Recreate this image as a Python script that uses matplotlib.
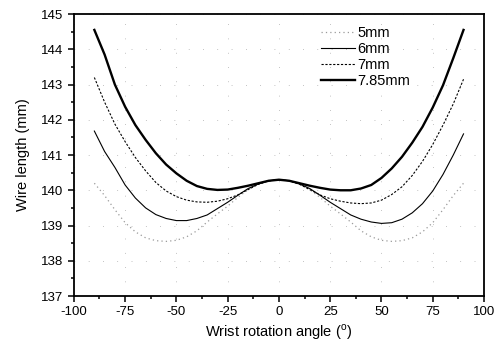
import matplotlib
matplotlib.use("Agg")
import matplotlib.pyplot as plt
from matplotlib.ticker import MultipleLocator

plt.rcParams['font.family'] = ['Liberation Sans', 'DejaVu Sans']
plt.rcParams['axes.unicode_minus'] = False

# Wrist rotation angle (deg)
angle = [-90, -85, -80, -75, -70, -65, -60, -55, -50, -45, -40, -35, -30, -25, -20, -15, -10, -5, 0,
         5, 10, 15, 20, 25, 30, 35, 40, 45, 50, 55, 60, 65, 70, 75, 80, 85, 90]

# wire length (mm) per wrist diameter
len_5mm = [140.20, 139.85, 139.45, 139.08, 138.82, 138.65, 138.57, 138.55, 138.58, 138.68, 138.85,
           139.10, 139.33, 139.55, 139.80, 140.02, 140.18, 140.27, 140.30,
           140.27, 140.18, 140.02, 139.80, 139.55, 139.33, 139.10, 138.85, 138.68, 138.58, 138.55,
           138.57, 138.65, 138.82, 139.08, 139.45, 139.85, 140.20]
len_6mm = [141.68, 141.10, 140.65, 140.15, 139.78, 139.50, 139.31, 139.20, 139.14, 139.14, 139.20,
           139.30, 139.48, 139.66, 139.86, 140.05, 140.18, 140.27, 140.30,
           140.27, 140.18, 140.05, 139.86, 139.66, 139.48, 139.30, 139.18, 139.10, 139.06, 139.08,
           139.18, 139.36, 139.62, 139.98, 140.45, 141.00, 141.60]
len_7mm = [143.20, 142.50, 141.88, 141.38, 140.93, 140.55, 140.22, 139.98, 139.82, 139.72, 139.67,
           139.66, 139.69, 139.76, 139.87, 140.02, 140.17, 140.27, 140.30,
           140.27, 140.17, 140.02, 139.87, 139.76, 139.69, 139.64, 139.62, 139.64, 139.72, 139.88,
           140.10, 140.42, 140.82, 141.30, 141.85, 142.45, 143.15]
len_785mm = [144.55, 143.85, 143.00, 142.37, 141.85, 141.43, 141.05, 140.73, 140.48, 140.27, 140.12,
             140.04, 140.01, 140.02, 140.07, 140.13, 140.20, 140.27, 140.30,
             140.27, 140.20, 140.13, 140.07, 140.02, 140.00, 140.00, 140.05, 140.15, 140.35, 140.62,
             140.95, 141.35, 141.80, 142.35, 142.98, 143.75, 144.55]

fig = plt.figure(figsize=(4.99, 3.43), dpi=100)
ax = fig.add_axes([0.148, 0.137, 0.822, 0.822])

ax.plot(angle, len_5mm, color='#9a9a9a', lw=0.9, ls=(0, (1, 2.5)), label='5mm')
ax.plot(angle, len_6mm, color='black', lw=0.8, label='6mm')
ax.plot(angle, len_7mm, color='black', lw=0.8, ls=(0, (2, 1.5)), label='7mm')
ax.plot(angle, len_785mm, color='black', lw=1.7, label='7.85mm')

ax.set_xlim(-100, 100)
ax.set_ylim(137, 145)
ax.xaxis.set_major_locator(MultipleLocator(25))
ax.xaxis.set_minor_locator(MultipleLocator(12.5))
ax.yaxis.set_major_locator(MultipleLocator(1))
ax.yaxis.set_minor_locator(MultipleLocator(0.5))
ax.tick_params(which='both', direction='out', top=False, right=False, labelsize=9.5, width=1.1)
ax.tick_params(which='major', length=4)
ax.tick_params(which='minor', length=2.5)
for sp in ax.spines.values():
    sp.set_linewidth(1.3)

ax.grid(True, which='major', color='#aaaaaa', lw=0.7, ls=(0, (0.7, 14)))

ax.set_xlabel('Wrist rotation angle ($^\\mathregular{o}$)', fontsize=10.5, labelpad=3)
ax.set_ylabel('Wire length (mm)', fontsize=10.5, labelpad=8)

ax.legend(loc='upper left', bbox_to_anchor=(0.573, 1.0), frameon=False, fontsize=10.5,
          handlelength=2.35, handletextpad=0.2, labelspacing=0.15, borderaxespad=0.4)

fig.savefig('out.png', dpi=100)
